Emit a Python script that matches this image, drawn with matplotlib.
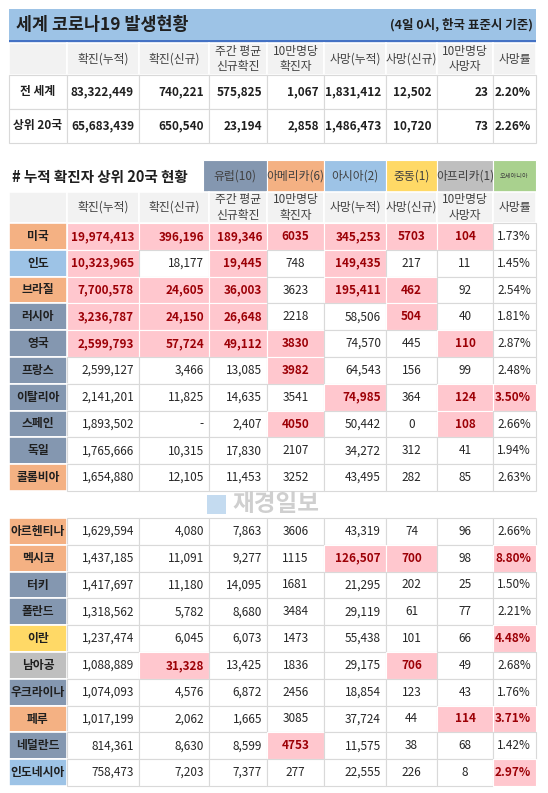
import matplotlib
matplotlib.use("Agg")
import matplotlib.pyplot as plt
from matplotlib.patches import Rectangle

plt.rcParams['font.family'] = ['Noto Sans CJK KR', 'DejaVu Sans']

# ---- data ----
columns = ["확진(누적)", "확진(신규)", "주간 평균\n신규확진", "10만명당\n확진자",
           "사망(누적)", "사망(신규)", "10만명당\n사망자", "사망률"]

summary_rows = ["전 세계", "상위 20국"]
summary_vals = [
    ["83,322,449", "740,221", "575,825", "1,067", "1,831,412", "12,502", "23", "2.20%"],
    ["65,683,439", "650,540", "23,194", "2,858", "1,486,473", "10,720", "73", "2.26%"],
]

regions = ["유럽(10)", "아메리카(6)", "아시아(2)", "중동(1)", "아프리카(1)", "오세아니아"]
region_colors = ["#8497b0", "#f4b183", "#9dc3e6", "#ffd966", "#bfbfbf", "#a9d18e"]

countries = ["미국", "인도", "브라질", "러시아", "영국", "프랑스", "이탈리아", "스페인", "독일", "콜롬비아",
             "아르헨티나", "멕시코", "터키", "폴란드", "이란", "남아공", "우크라이나", "페루", "네덜란드", "인도네시아"]
country_region = [1, 2, 1, 0, 0, 0, 0, 0, 0, 1,
                  1, 1, 0, 0, 3, 4, 0, 1, 0, 2]
country_vals = [
    ["19,974,413", "396,196", "189,346", "6035", "345,253", "5703", "104", "1.73%"],
    ["10,323,965", "18,177", "19,445", "748", "149,435", "217", "11", "1.45%"],
    ["7,700,578", "24,605", "36,003", "3623", "195,411", "462", "92", "2.54%"],
    ["3,236,787", "24,150", "26,648", "2218", "58,506", "504", "40", "1.81%"],
    ["2,599,793", "57,724", "49,112", "3830", "74,570", "445", "110", "2.87%"],
    ["2,599,127", "3,466", "13,085", "3982", "64,543", "156", "99", "2.48%"],
    ["2,141,201", "11,825", "14,635", "3541", "74,985", "364", "124", "3.50%"],
    ["1,893,502", "-", "2,407", "4050", "50,442", "0", "108", "2.66%"],
    ["1,765,666", "10,315", "17,830", "2107", "34,272", "312", "41", "1.94%"],
    ["1,654,880", "12,105", "11,453", "3252", "43,495", "282", "85", "2.63%"],
    ["1,629,594", "4,080", "7,863", "3606", "43,319", "74", "96", "2.66%"],
    ["1,437,185", "11,091", "9,277", "1115", "126,507", "700", "98", "8.80%"],
    ["1,417,697", "11,180", "14,095", "1681", "21,295", "202", "25", "1.50%"],
    ["1,318,562", "5,782", "8,680", "3484", "29,119", "61", "77", "2.21%"],
    ["1,237,474", "6,045", "6,073", "1473", "55,438", "101", "66", "4.48%"],
    ["1,088,889", "31,328", "13,425", "1836", "29,175", "706", "49", "2.68%"],
    ["1,074,093", "4,576", "6,872", "2456", "18,854", "123", "43", "1.76%"],
    ["1,017,199", "2,062", "1,665", "3085", "37,724", "44", "114", "3.71%"],
    ["814,361", "8,630", "8,599", "4753", "11,575", "38", "68", "1.42%"],
    ["758,473", "7,203", "7,377", "277", "22,555", "226", "8", "2.97%"],
]
# highlighted (pink) cells: column indices per country
highlights = [
    [0, 1, 2, 3, 4, 5, 6], [0, 2, 4], [0, 1, 2, 4, 5], [0, 1, 2, 5], [0, 1, 2, 3, 6],
    [3], [4, 6, 7], [3, 6], [], [],
    [], [4, 5, 7], [], [], [7], [1, 5], [], [6, 7], [3], [7],
]

# ---- layout (pixels) ----
col_x = [9, 67, 139, 209, 267, 324, 386, 437, 493, 536]
GRID = "#d9d9d9"
HEAD_BG = "#f2f2f2"
PINK = "#ffc7ce"
RED = "#9c0006"

fig = plt.figure(figsize=(5.48, 7.93), dpi=100)
ax = fig.add_axes([0, 0, 1, 1])
ax.set_xlim(0, 548)
ax.set_ylim(793, 0)
ax.axis("off")


def cell(x0, x1, y0, y1, fc="white", ec=GRID, lw=0.8):
    ax.add_patch(Rectangle((x0, y0), x1 - x0, y1 - y0, facecolor=fc, edgecolor=ec, lw=lw))


def header_row(y0, y1):
    for c in range(9):
        cell(col_x[c], col_x[c + 1], y0, y1, fc=HEAD_BG, ec="white", lw=1.2)
    for c, name in enumerate(columns):
        ax.text((col_x[c + 1] + col_x[c + 2]) / 2, (y0 + y1) / 2, name, ha="center", va="center",
                fontsize=8.5, color="#404040", linespacing=1.2)


# title bar
ax.add_patch(Rectangle((9, 9), 527, 31, facecolor="#9dc3e6", edgecolor="none"))
ax.add_patch(Rectangle((9, 40), 527, 3, facecolor="#4472c4", edgecolor="none"))
ax.text(16, 25, "세계 코로나19 발생현황", fontsize=12.5, fontweight="bold", va="center", color="#1f1f1f")
ax.text(533, 25, "(4일 0시, 한국 표준시 기준)", fontsize=9, fontweight="bold", va="center", ha="right",
        color="#1f1f1f")

# summary table
header_row(43, 75)
sum_y = [75, 109, 143]
for r, name in enumerate(summary_rows):
    y0, y1 = sum_y[r], sum_y[r + 1]
    for c in range(9):
        cell(col_x[c], col_x[c + 1], y0, y1)
    ym = (y0 + y1) / 2
    ax.text((col_x[0] + col_x[1]) / 2, ym, name, ha="center", va="center", fontsize=8.5,
            fontweight="bold", color="#1f1f1f")
    for c, v in enumerate(summary_vals[r]):
        ax.text(col_x[c + 2] - 5, ym, v, ha="right", va="center", fontsize=8.5,
                fontweight="bold", color="#1f1f1f")

# subtitle + region legend
ax.text(12, 177, "# 누적 확진자 상위 20국 현황", fontsize=10.5, fontweight="bold", va="center",
        color="#1f1f1f")
reg_x = [203, 267, 324, 386, 437, 493, 536]
for i, (name, col) in enumerate(zip(regions, region_colors)):
    ax.add_patch(Rectangle((reg_x[i], 160), reg_x[i + 1] - reg_x[i], 32, facecolor=col,
                           edgecolor="white", lw=0.8))
    ax.text((reg_x[i] + reg_x[i + 1]) / 2, 176, name, ha="center", va="center",
            fontsize=4.5 if i == 5 else 8.5, color="#404040")

header_row(192, 223)

# country rows
row_h = 26.8
for i, name in enumerate(countries):
    y0 = 223 + i * row_h if i < 10 else 518 + (i - 10) * row_h
    y1 = y0 + row_h
    ym = (y0 + y1) / 2
    cell(col_x[0], col_x[1], y0, y1, fc=region_colors[country_region[i]], ec="white", lw=1.2)
    ax.text((col_x[0] + col_x[1]) / 2, ym, name, ha="center", va="center", fontsize=8.5,
            fontweight="bold", color="#1f1f1f")
    for c, v in enumerate(country_vals[i]):
        hl = c in highlights[i]
        cell(col_x[c + 1], col_x[c + 2], y0, y1, fc=PINK if hl else "white",
             ec="white" if hl else GRID)
        if c in (3, 5, 6):
            xt, ha = (col_x[c + 1] + col_x[c + 2]) / 2, "center"
        else:
            xt, ha = col_x[c + 2] - 5, "right"
        ax.text(xt, ym, v, ha=ha, va="center", fontsize=8.5,
                fontweight="bold" if hl else "normal", color=RED if hl else "#262626")

# watermark
ax.add_patch(Rectangle((207, 495), 19, 19, facecolor="#9dc3e6", edgecolor="none", alpha=0.6))
ax.text(232, 504, "재경일보", fontsize=17, fontweight="bold", va="center", color="#cfcfcf")

fig.savefig("out.png", dpi=100)
